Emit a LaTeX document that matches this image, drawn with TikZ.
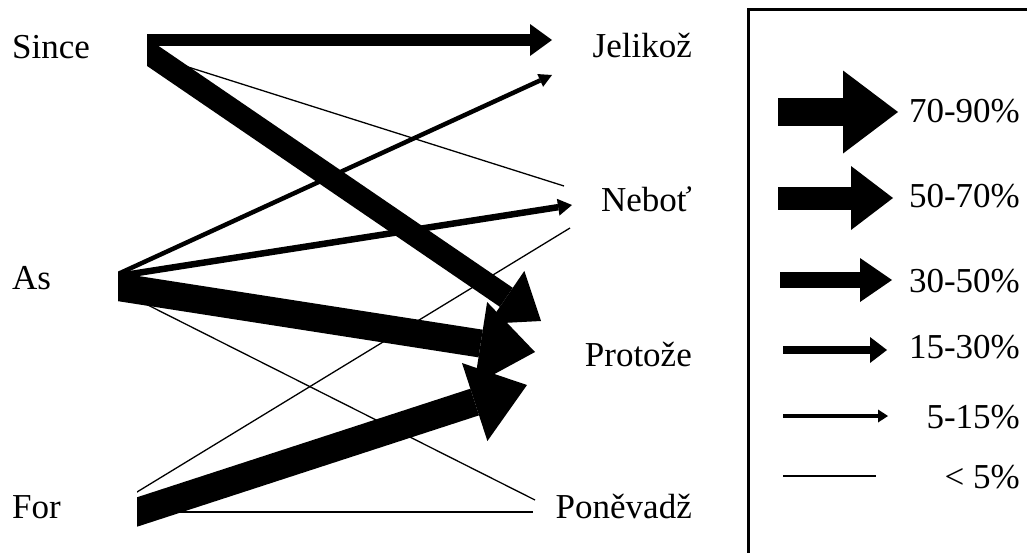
\documentclass[tikz,border=0pt]{standalone}
\usepackage{fontspec}
\setmainfont{Liberation Serif}
\usetikzlibrary{arrows.meta}

\tikzset{
  word/.style={inner sep=0pt, font=\fontsize{35}{42}\selectfont},
  flow/.style n args={3}{line width=#1, -{Triangle[width=#2,length=#3,line width=0pt]}},
  trace/.style={line width=1.3pt},
}

\begin{document}
\begin{tikzpicture}[x=1pt,y=-1pt]
  \useasboundingbox (0,0) rectangle (1027,552);
  \clip (0,0) rectangle (1027,552);

  % English words
  \node[word,anchor=base west] (since) at (12,58)  {Since};
  \node[word,anchor=base west] (as)    at (12,289) {As};
  \node[word,anchor=base west] (for)   at (12,518) {For};
  % Czech words
  \node[word,anchor=base east] (jelikoz)  at (692,57)  {Jelikož};
  \node[word,anchor=base east] (nebot)    at (692,211) {Neboť};
  \node[word,anchor=base east] (protoze)  at (692,366) {Protože};
  \node[word,anchor=base east] (ponevadz) at (692,518) {Poněvadž};

  % where the flows leave and arrive
  \coordinate (since-j) at (147,40);
  \coordinate (since-p) at (147,52);
  \coordinate (since-n) at (147,54);
  \coordinate (as-j) at (118,274);
  \coordinate (as-n) at (118,276);
  \coordinate (as-p) at (118,287);
  \coordinate (as-v) at (118,290);
  \coordinate (for-p) at (137,512);
  \coordinate (for-n) at (137,492);
  \coordinate (for-v) at (137,512);
  \coordinate (jelikoz-s) at (552,40);
  \coordinate (jelikoz-a) at (552,75);
  \coordinate (nebot-s) at (564,186);
  \coordinate (nebot-a) at (572,205);
  \coordinate (nebot-f) at (570,228);
  \coordinate (protoze-s) at (541,321);
  \coordinate (protoze-a) at (535,352);
  \coordinate (protoze-f) at (527,385);
  \coordinate (ponevadz-a) at (535,500);
  \coordinate (ponevadz-f) at (533,512);

  % Since
  \begin{scope}
    \clip (147,0) rectangle (720,552);
    \draw[trace,shorten <=-15pt] (since-n) -- (nebot-s);
    \draw[flow={23pt}{64pt}{42pt},shorten <=-15pt] (since-p) -- (protoze-s);
    \draw[flow={12pt}{32pt}{22pt}] (since-j) -- (jelikoz-s);
  \end{scope}

  % As
  \begin{scope}
    \clip (118,0) rectangle (720,552);
    \draw[trace,shorten <=-15pt] (as-v) -- (ponevadz-a);
    \draw[flow={4.5pt}{14pt}{13pt},shorten <=-15pt] (as-j) -- (jelikoz-a);
    \draw[flow={6.5pt}{17pt}{14pt},shorten <=-15pt] (as-n) -- (nebot-a);
    \draw[flow={28pt}{84pt}{55pt},shorten <=-15pt] (as-p) -- (protoze-a);
  \end{scope}

  % For
  \begin{scope}
    \clip (137,0) rectangle (720,552);
    \draw[trace,shorten <=-15pt] (for-n) -- (nebot-f);
    \draw[trace,shorten <=-15pt] (for-v) -- (ponevadz-f);
    \draw[flow={28pt}{82pt}{55pt},shorten <=-15pt] (for-p) -- (protoze-f);
  \end{scope}

  % legend
  \draw[line width=3pt] (748,9) rectangle (1045,575);
  \coordinate (k1a) at (778,112);
  \coordinate (k1b) at (898,112);
  \coordinate (k2a) at (778,198);
  \coordinate (k2b) at (893,198);
  \coordinate (k3a) at (780,280);
  \coordinate (k3b) at (892,280);
  \coordinate (k4a) at (783,350);
  \coordinate (k4b) at (887,350);
  \coordinate (k5a) at (783,416);
  \coordinate (k5b) at (888,416);
  \coordinate (k6a) at (783,476);
  \coordinate (k6b) at (876,476);
  \draw[flow={28pt}{83pt}{55pt}] (k1a) -- (k1b);
  \draw[flow={23pt}{64pt}{42pt}] (k2a) -- (k2b);
  \draw[flow={16pt}{44pt}{32pt}] (k3a) -- (k3b);
  \draw[flow={8.5pt}{26pt}{17pt}] (k4a) -- (k4b);
  \draw[flow={4pt}{13pt}{10pt}] (k5a) -- (k5b);
  \draw[trace] (k6a) -- (k6b);
  \node[word,anchor=base east] (l1) at (1020,122) {70-90\%};
  \node[word,anchor=base east] (l2) at (1020,207) {50-70\%};
  \node[word,anchor=base east] (l3) at (1020,292) {30-50\%};
  \node[word,anchor=base east] (l4) at (1020,358) {15-30\%};
  \node[word,anchor=base east] (l5) at (1020,428) {5-15\%};
  \node[word,anchor=base east] (l6) at (1020,488) {< 5\%};
\end{tikzpicture}
\end{document}
